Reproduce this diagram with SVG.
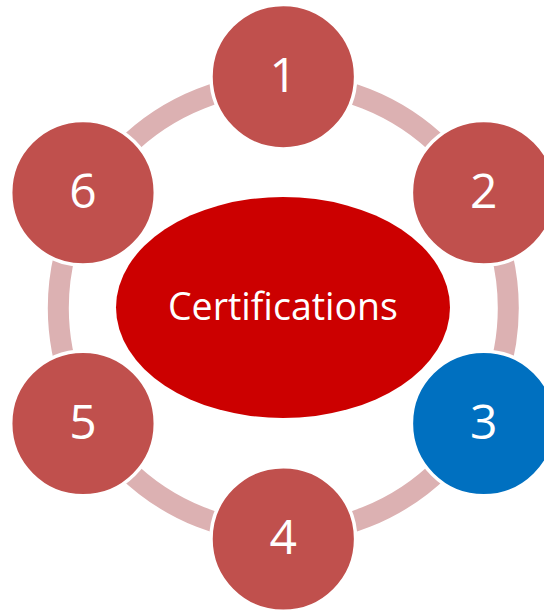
<svg xmlns="http://www.w3.org/2000/svg" width="544" height="610" viewBox="0 0 544 610">
  <style>
    .node circle { fill: #c0504d; stroke: #ffffff; stroke-width: 3.5; }
    .node.active circle { fill: #0070c0; }
    .num { font-family: "Open Sans", "Liberation Sans", sans-serif; font-size: 48px; fill: #ffffff; text-anchor: middle; }
    .title { font-family: "Open Sans", "Liberation Sans", sans-serif; font-size: 37.5px; fill: #ffffff; text-anchor: middle; }
  </style>
  <rect x="0" y="0" width="544" height="610" fill="#ffffff"/>
  <g id="connectors">
    <circle cx="283.3" cy="307.9" r="225" fill="none" stroke="#dcb1b2" stroke-width="21"/>
  </g>
  <g id="center">
    <ellipse cx="283" cy="307.5" rx="167" ry="110.5" fill="#cc0000"/>
    <text class="title" x="283" y="319.5">Certifications</text>
  </g>
  <g id="node1" class="node">
    <circle cx="283.3" cy="76.7" r="72.3"/>
    <text class="num" x="283.3" y="91.7">1</text>
  </g>
  <g id="node2" class="node">
    <circle cx="483.7" cy="192.7" r="72.3"/>
    <text class="num" x="483.7" y="207.5">2</text>
  </g>
  <g id="node3" class="node active">
    <circle cx="483.7" cy="423.5" r="72.3"/>
    <text class="num" x="483.7" y="438.5">3</text>
  </g>
  <g id="node4" class="node">
    <circle cx="283.3" cy="539" r="72.3"/>
    <text class="num" x="283.3" y="554">4</text>
  </g>
  <g id="node5" class="node">
    <circle cx="83" cy="423.5" r="72.3"/>
    <text class="num" x="83" y="438.5">5</text>
  </g>
  <g id="node6" class="node">
    <circle cx="83" cy="192.7" r="72.3"/>
    <text class="num" x="83" y="207.5">6</text>
  </g>
</svg>
